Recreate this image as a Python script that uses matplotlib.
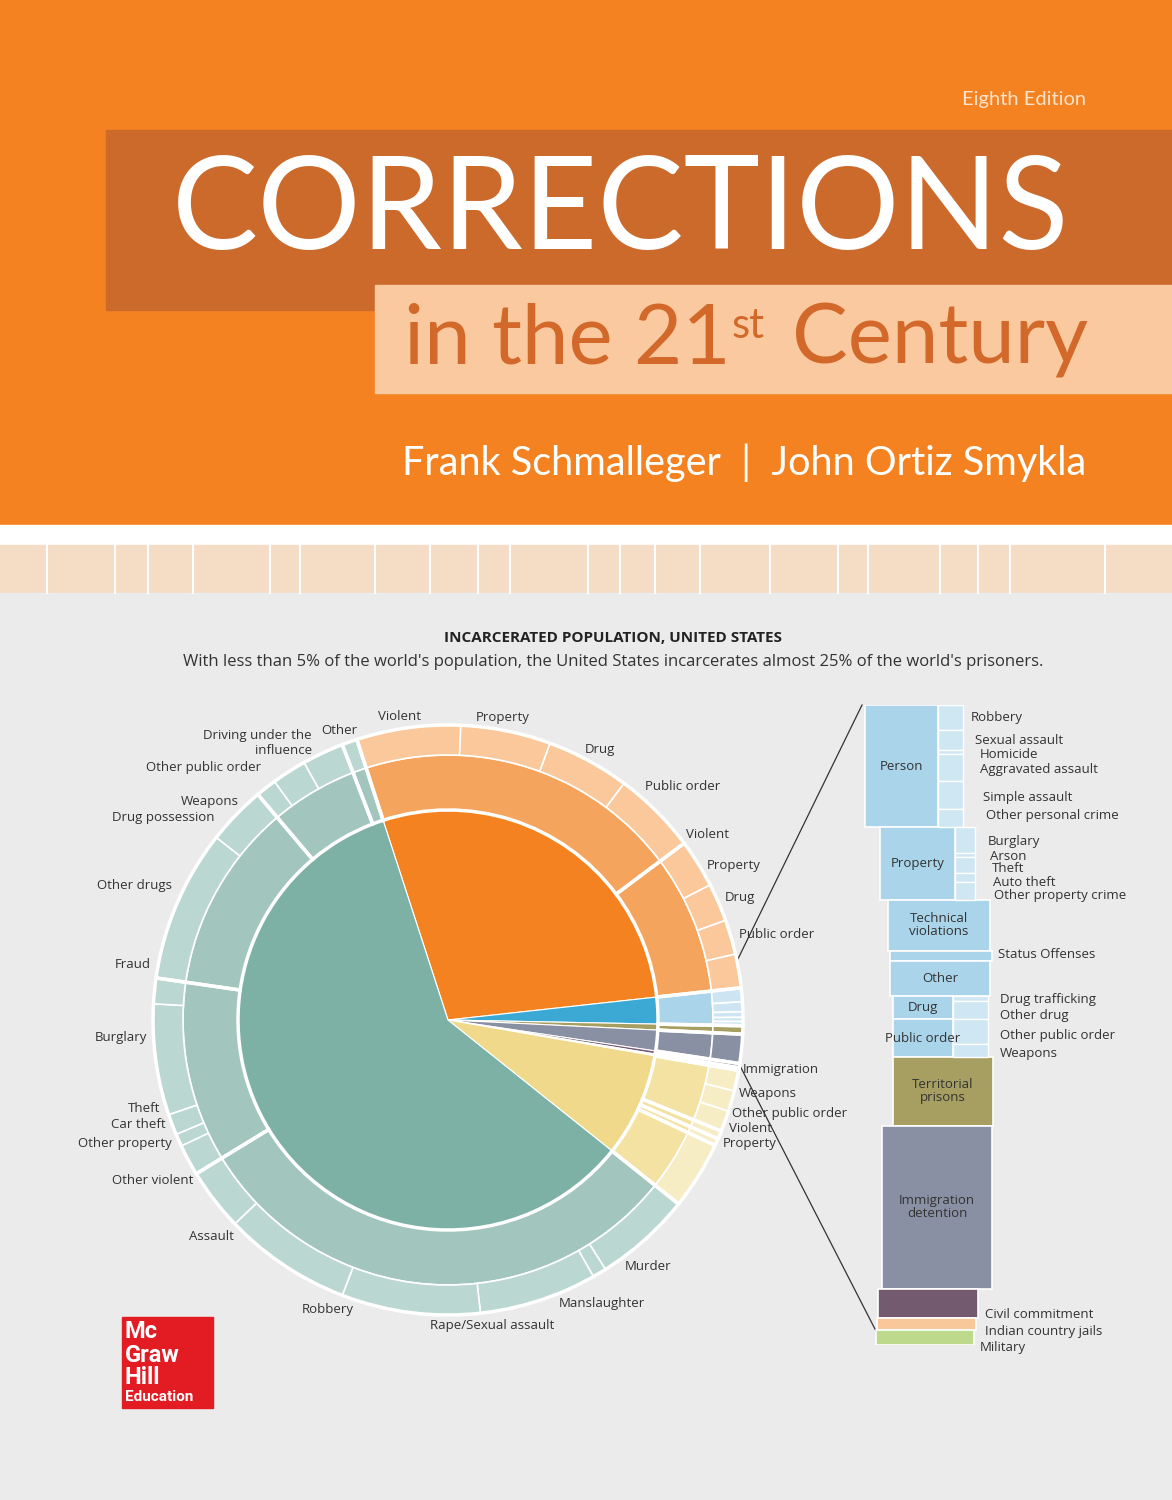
import matplotlib
matplotlib.use("Agg")
import matplotlib.pyplot as plt
from matplotlib.patches import Rectangle
import numpy as np

# ---------------- data ----------------
inner_labels = ["Local jails", "Youth", "Territorial prisons", "Immigration detention",
                "Civil commitment", "Indian country jails", "Military", "Federal prisons", "State prisons"]
inner_values = [744592, 54150, 12000, 42000, 6000, 2500, 1300, 210567, 1562000]

local_mid = ["Not convicted", "Convicted"]
local_mid_vals = [521000, 223592]
local_out = ["Violent", "Property", "Drug", "Public order", "Violent", "Property", "Drug", "Public order"]
local_out_vals = [150000, 130000, 120000, 121000, 70000, 55000, 50000, 48592]

fed_mid = ["Public order", "Violent", "Property", "Drug"]
fed_mid_vals = [90000, 12000, 10000, 98567]
fed_out = ["Immigration", "Weapons", "Other public order", "Violent", "Property", "Drug"]
fed_out_vals = [30000, 30000, 30000, 12000, 10000, 98567]

state_mid = ["Violent", "Property", "Drug", "Public order", "Other"]
state_mid_vals = [805000, 290000, 305000, 140000, 22000]
state_out = ["Murder", "Manslaughter", "Rape/Sexual assault", "Robbery", "Assault", "Other violent",
             "Other property", "Car theft", "Theft", "Burglary", "Fraud",
             "Other drugs", "Drug possession",
             "Weapons", "Other public order", "Driving under the influence", "Other"]
state_out_vals = [140000, 20000, 170000, 200000, 185000, 90000,
                  45000, 18000, 30000, 160000, 37000,
                  220000, 85000,
                  30000, 50000, 60000, 22000]

youth_out_vals = [20000, 14150, 8000, 6000, 6000]

col_main = ["Person", "Property", "Technical\nviolations", "", "Other", "Drug", "Public order",
            "Territorial\nprisons", "Immigration\ndetention", "", "", ""]
col_main_vals = [121, 72, 50, 10, 35, 23, 37, 68, 162, 28, 12, 15]
col_sub = ["Robbery", "Sexual assault", "Homicide", "Aggravated assault", "Simple assault",
           "Other personal crime", "Burglary", "Arson", "Theft", "Auto theft", "Other property crime",
           "Drug trafficking", "Other drug", "Other public order", "Weapons"]
col_sub_vals = [25, 20, 3, 27, 28, 18, 25, 4, 16, 9, 18, 5, 18, 24, 13]

# ---------------- figure ----------------
fig = plt.figure(figsize=(11.72, 15), dpi=100)
ax = fig.add_axes([0, 0, 1, 1])
ax.set_xlim(0, 1172); ax.set_ylim(1500, 0); ax.axis("off")

ax.add_patch(Rectangle((0, 0), 1172, 525, color="#F58220", zorder=0))
ax.add_patch(Rectangle((0, 525), 1172, 20, color="white", zorder=0))
ax.add_patch(Rectangle((0, 545), 1172, 48, color="#F5DCC5", zorder=0))
ax.add_patch(Rectangle((0, 593), 1172, 907, color="#EBEBEB", zorder=0))
for xv in [47, 115, 148, 193, 270, 300, 375, 430, 478, 510, 588, 620, 655, 700, 770, 838,
           868, 940, 978, 1010, 1105]:
    ax.plot([xv, xv], [545, 593], color="white", lw=1.5, zorder=1)
ax.add_patch(Rectangle((106, 130), 1066, 180, color="#CC6A2C", zorder=1))
ax.add_patch(Rectangle((375, 285), 797, 108, color="#FBC9A0", zorder=2))

ax.text(1086, 100, "Eighth Edition", color="#FDE3CC", fontsize=14.5, family="Lato",
        ha="right", va="center")
ax.text(621, 212, "CORRECTIONS", color="white", fontsize=93, family="Lato",
        ha="center", va="center", zorder=3)
ax.text(404, 340, "in the 21", color="#D2692A", fontsize=60, family="Lato",
        ha="left", va="center", zorder=3)
ax.text(732, 326, "st", color="#D2692A", fontsize=30, family="Lato", ha="left", va="center", zorder=3)
ax.text(1088, 340, "Century", color="#D2692A", fontsize=60, family="Lato",
        ha="right", va="center", zorder=3)
ax.text(1086, 463, "Frank Schmalleger  |  John Ortiz Smykla", color="white", fontsize=28.5,
        family="Lato", ha="right", va="center")

ax.text(613, 638, "INCARCERATED POPULATION, UNITED STATES", fontsize=11, fontweight="bold",
        family="Open Sans", ha="center", va="center", color="#222222")
ax.text(613, 662, "With less than 5% of the world's population, the United States incarcerates almost 25% of the world's prisoners.",
        fontsize=12, family="Open Sans", ha="center", va="center", color="#333333")

# McGraw Hill logo
ax.add_patch(Rectangle((122, 1317), 91, 91, color="#E31B23", zorder=2))
for txt, yy, fs in [("Mc", 1331, 17), ("Graw", 1355, 17), ("Hill", 1377, 17), ("Education", 1397, 11)]:
    ax.text(125, yy, txt, color="white", fontsize=fs, fontweight="bold", family="Roboto",
            ha="left", va="center", zorder=3)

# ---------------- pie ----------------
cx, cy, R = 448, 1020, 300
pax = fig.add_axes([(cx - R) / 1172, 1 - (cy + R) / 1500, 2 * R / 1172, 2 * R / 1500])
pax.set_xlim(-R, R); pax.set_ylim(-R, R); pax.axis("off")
start = 108

inner_cols = ["#F58220", "#3BA9D3", "#A79F62", "#8A90A3", "#735A6E", "#F8C89A", "#BDD98C",
              "#F0D98A", "#7DB1A6"]
mid_cols_local, out_cols_local = "#F5A45D", "#FAC89A"
mid_yth, out_yth = "#A9D4EA", "#CDE5F3"
mid_fed, out_fed = "#F3E2A2", "#F7EDC4"
mid_st, out_st = "#A2C6BE", "#BBD7D1"

pax.pie(inner_values, radius=210, colors=inner_cols, startangle=start, counterclock=False,
        wedgeprops=dict(edgecolor="white", linewidth=0.8))

def scaled(vals, parent):
    v = np.array(vals, float)
    return list(v / v.sum() * parent)

mid_vals, mid_colors = [], []
mid_vals += scaled(local_mid_vals, inner_values[0]); mid_colors += [mid_cols_local] * 2
mid_vals += [inner_values[1]]; mid_colors += [mid_yth]
for i in range(2, 7):
    mid_vals += [inner_values[i]]; mid_colors += [inner_cols[i]]
mid_vals += scaled(fed_mid_vals, inner_values[7]); mid_colors += [mid_fed] * 4
mid_vals += scaled(state_mid_vals, inner_values[8]); mid_colors += [mid_st] * 5
pax.pie(mid_vals, radius=265, colors=mid_colors, startangle=start, counterclock=False,
        wedgeprops=dict(width=55, edgecolor="white", linewidth=1.2))

out_vals, out_colors = [], []
lm = scaled(local_mid_vals, inner_values[0])
out_vals += scaled(local_out_vals[:4], lm[0])
out_vals += scaled(local_out_vals[4:], lm[1])
out_colors += [out_cols_local] * 8
out_vals += scaled(youth_out_vals, inner_values[1]); out_colors += [out_yth] * 5
for i in range(2, 7):
    out_vals += [inner_values[i]]; out_colors += [inner_cols[i]]
fm = scaled(fed_mid_vals, inner_values[7])
out_vals += scaled(fed_out_vals[:3], fm[0]) + fm[1:]
out_colors += [out_fed] * 6
sm = scaled(state_mid_vals, inner_values[8])
groups = [(0, 6), (6, 11), (11, 13), (13, 16), (16, 17)]
for g, (a, b) in enumerate(groups):
    out_vals += scaled(state_out_vals[a:b], sm[g])
out_colors += [out_st] * len(state_out_vals)
pax.pie(out_vals, radius=295, colors=out_colors, startangle=start, counterclock=False,
        wedgeprops=dict(width=30, edgecolor="white", linewidth=1.2))
pax.pie(mid_vals, radius=295, colors=["none"] * len(mid_vals), startangle=start,
        counterclock=False, wedgeprops=dict(width=85, edgecolor="white", linewidth=2.5, fill=False))
pax.set_xlim(-R, R); pax.set_ylim(-R, R)

fs = 9.5
lab = dict(fontsize=fs, family="Open Sans", color="#333333", ha="center", va="center", zorder=5)
big = dict(fontsize=12.5, family="Open Sans", color="#333", ha="center", va="center", zorder=5)
ax.text(518, 894, "Local jails", **big)
ax.text(518, 917, "744,592", **big)
ax.text(358, 1061, "State prisons", **big)
ax.text(358, 1084, "1,562,000", **big)
ax.text(580, 1062, "Federal prisons", **big)
ax.text(580, 1085, "210,567", **big)
ax.text(600, 1008, "Youth 54,150", fontsize=12.5, family="Open Sans", color="#1d3d57",
        ha="center", va="center", zorder=5)
for t, x, y in [("Not convicted", 502, 793), ("Convicted", 658, 915), ("Public order", 318, 825),
                ("Drug", 235, 912), ("Property", 212, 1056), ("Violent", 438, 1255),
                ("Public\norder", 677, 1074), ("Drug", 663, 1153)]:
    ax.text(x, y, t, **lab)
left = dict(fontsize=fs, family="Open Sans", color="#333333", ha="left", va="center", zorder=5)
right = dict(fontsize=fs, family="Open Sans", color="#333333", ha="right", va="center", zorder=5)
for t, x, y in [("Violent", 378, 717), ("Property", 476, 718), ("Drug", 585, 750),
                ("Public order", 645, 787), ("Violent", 686, 834), ("Property", 707, 866),
                ("Drug", 725, 898), ("Public order", 739, 935), ("Immigration", 743, 1070),
                ("Weapons", 739, 1093), ("Other public order", 732, 1113), ("Violent", 729, 1128),
                ("Property", 723, 1143), ("Murder", 625, 1267), ("Manslaughter", 559, 1303),
                ("Rape/Sexual assault", 430, 1325), ("Other", 321, 731)]:
    ax.text(x, y, t, **left)
for t, x, y in [("Robbery", 354, 1310), ("Assault", 234, 1236), ("Other violent", 193, 1181),
                ("Other property", 172, 1143), ("Car theft", 166, 1125), ("Theft", 160, 1108),
                ("Burglary", 147, 1037), ("Fraud", 151, 965), ("Other drugs", 172, 886),
                ("Drug possession", 215, 817), ("Weapons", 239, 801), ("Other public order", 261, 768),
                ("Driving under the\ninfluence", 312, 743)]:
    ax.text(x, y, t, **right)

ax.plot([735, 862], [965, 705], color="#333333", lw=0.9, zorder=6)
ax.plot([736, 877], [1058, 1333], color="#333333", lw=0.9, zorder=6)

# ---------------- right column ----------------
top, bot = 705, 1345
cax = fig.add_axes([860 / 1172, 1 - bot / 1500, 140 / 1172, (bot - top) / 1500])
total = sum(col_main_vals)
cax.set_ylim(total, 0); cax.set_xlim(0, 140); cax.axis("off")
main_cols = ["#A9D4EA"] * 7 + ["#A79F62", "#8A90A3", "#735A6E", "#F8C89A", "#BDD98C"]
main_x = [5, 20, 28, 30, 30, 33, 33, 33, 22, 18, 17, 16]
main_w = [73, 75, 102, 102, 100, 60, 60, 100, 110, 100, 99, 98]
cum = np.concatenate([[0], np.cumsum(col_main_vals)[:-1]])
cax.bar(main_x, col_main_vals, bottom=cum, width=main_w, align="edge",
        color=main_cols, edgecolor="white", linewidth=1.2)
for t, c, v, w, x0 in zip(col_main, cum, col_main_vals, main_w, main_x):
    if t:
        cax.text(x0 + w / 2, c + v / 2, t, fontsize=9.5, family="Open Sans", color="#333",
                 ha="center", va="center", linespacing=1.0)
sub_x = [78] * 6 + [95] * 5 + [93] * 4
sub_w = [25] * 6 + [20] * 5 + [35] * 4
sub_bottom_start = [0] * 6 + [121] * 5 + [288] * 2 + [311] * 2
sub_cum = []
running = {}
for st, v in zip(sub_bottom_start, col_sub_vals):
    b = running.get(st, st)
    sub_cum.append(b)
    running[st] = b + v
cax.bar(sub_x, col_sub_vals, bottom=sub_cum, width=sub_w, align="edge",
        color="#CFE6F3", edgecolor="white", linewidth=1.0)
label_pos = [718, 741, 755, 770, 797, 816, 841, 856, 869, 883, 896, 1000, 1015, 1036, 1054]
label_x = [971, 975, 980, 980, 983, 986, 988, 990, 992, 993, 994, 1000, 1000, 1000, 1000]
for t, x, y in zip(col_sub, label_x, label_pos):
    ax.text(x, y, t, **left)
for t, x, y in [("Status Offenses", 998, 955), ("Civil commitment", 985, 1314),
                ("Indian country jails", 985, 1332), ("Military", 980, 1347)]:
    ax.text(x, y, t, **left)

fig.savefig("out.png", dpi=100)
